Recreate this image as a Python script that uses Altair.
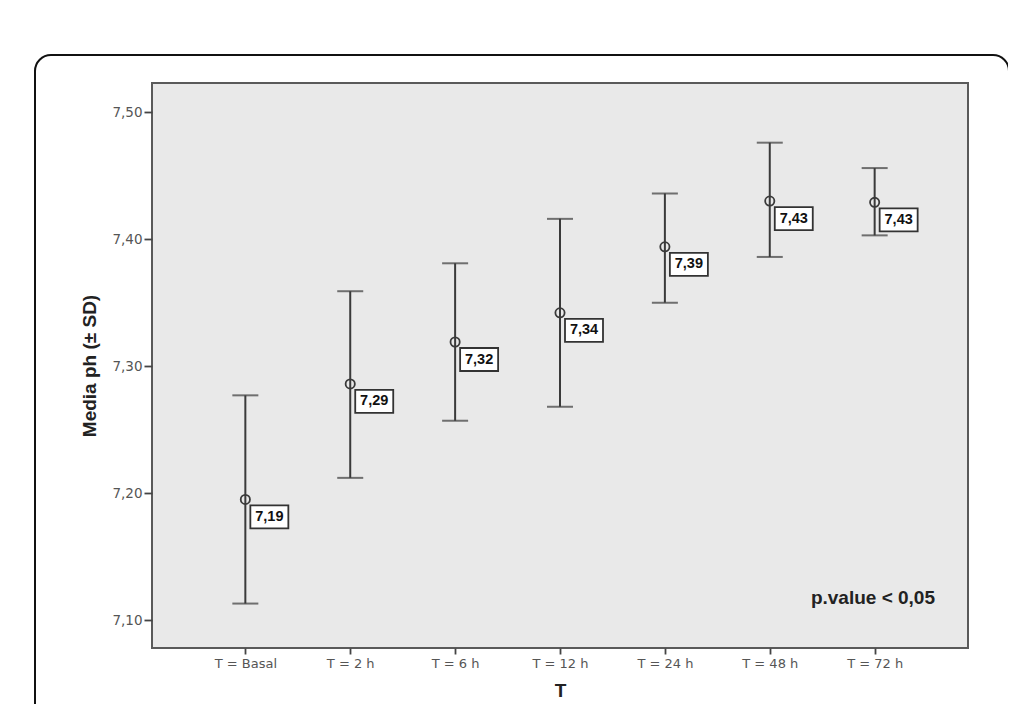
import altair as alt
import pandas as pd

categories = ["T = Basal", "T = 2 h", "T = 6 h", "T = 12 h", "T = 24 h", "T = 48 h", "T = 72 h"]
means = [7.195, 7.286, 7.319, 7.342, 7.394, 7.430, 7.429]
lower = [7.113, 7.212, 7.257, 7.268, 7.350, 7.386, 7.403]
upper = [7.277, 7.359, 7.381, 7.416, 7.436, 7.476, 7.456]
labels = ["7,19", "7,29", "7,32", "7,34", "7,39", "7,43", "7,43"]
y_ticks = [7.10, 7.20, 7.30, 7.40, 7.50]

df = pd.DataFrame({"T": categories, "mean": means, "lo": lower, "hi": upper, "lab": labels})

FONT = "Liberation Sans"
TICKFONT = "DejaVu Sans"
INK = "#3a3a3a"
W, H = 816, 565

xenc = alt.X("T:N", sort=categories, title="T",
             scale=alt.Scale(type="point", padding=0.89),
             axis=alt.Axis(labelAngle=0, labelFontSize=13, labelColor="#555", labelFont=TICKFONT,
                           tickSize=6, tickColor="#444", tickWidth=1.8, domain=False,
                           labelPadding=3, titleFontSize=19, titleFontWeight="bold",
                           titleFont=FONT, titleColor="#222", titlePadding=11))
yscale = alt.Scale(domain=[7.078, 7.523], nice=False, zero=False)
yenc = alt.Y("mean:Q", scale=yscale, title="Media ph (± SD)",
             axis=alt.Axis(values=y_ticks, labelExpr="replace(format(datum.value, '.2f'), '.', ',')",
                           labelFontSize=13.5, labelColor="#555", labelFont=TICKFONT, tickSize=8,
                           tickColor="#444", tickWidth=1.8, domain=False, grid=False,
                           labelPadding=2, titleFontSize=19, titleFontWeight="bold",
                           titleFont=FONT, titleColor="#222", titlePadding=12))

base = alt.Chart(df)
xs = alt.X("T:N", sort=categories)

rules = base.mark_rule(color=INK, strokeWidth=2).encode(
    x=xenc, y=alt.Y("lo:Q", scale=yscale), y2="hi:Q")
cap_lo = base.mark_tick(color=INK, orient="horizontal", size=26, thickness=2).encode(
    x=xs, y=alt.Y("lo:Q", scale=yscale))
cap_hi = base.mark_tick(color=INK, orient="horizontal", size=26, thickness=2).encode(
    x=xs, y=alt.Y("hi:Q", scale=yscale))
pts = base.mark_point(shape="circle", filled=False, size=85, strokeWidth=1.8, color=INK,
                      opacity=1).encode(x=xs, y=yenc)
boxes = base.mark_rect(width=38, height=23, xOffset=24, yOffset=17.5, fill="white",
                       stroke="#333", strokeWidth=1.8).encode(
    x=xs, y=alt.Y("mean:Q", scale=yscale))
texts = base.mark_text(dx=24, dy=17.5, font=FONT, fontSize=14.5, fontWeight="bold",
                       color="#111").encode(
    x=xs, y=alt.Y("mean:Q", scale=yscale), text="lab:N")

note = alt.Chart(pd.DataFrame({"t": ["p.value < 0,05"]})).mark_text(
    align="right", baseline="middle", font=FONT, fontSize=19, fontWeight="bold", color="#222"
).encode(x=alt.value(783), y=alt.value(515), text="t:N")

frame = alt.Chart(pd.DataFrame({"a": [0]})).mark_rect(
    fill=None, stroke="#111", strokeWidth=2, cornerRadius=16, clip=False
).encode(x=alt.value(-117), x2=alt.value(857), y=alt.value(-28), y2=alt.value(680))

chart = alt.layer(frame, rules, cap_lo, cap_hi, pts, boxes, texts, note).properties(
    width=W, height=H,
    autosize=alt.AutoSizeParams(type="none"),
    padding={"left": 144, "top": 75, "right": 40, "bottom": 58},
    background="white",
).configure_view(fill="#e9e9e9", stroke="#5a5a5a", strokeWidth=2)

chart.save("out.html", embed_options={"renderer": "svg", "actions": False})
